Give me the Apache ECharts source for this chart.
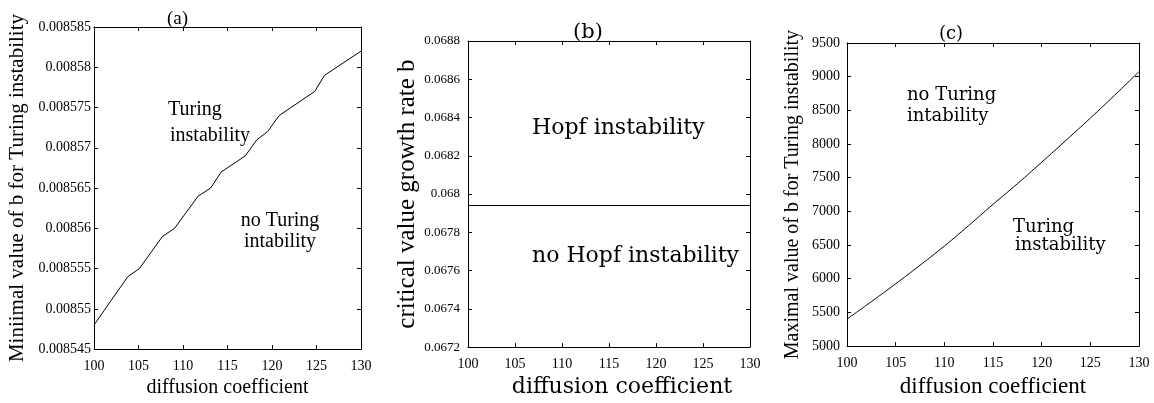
<!DOCTYPE html>
<html><head><meta charset="utf-8">
<script src="https://cdn.jsdelivr.net/npm/echarts@6/dist/echarts.min.js"></script>
<style>html,body{margin:0;padding:0;background:#fff}#c{width:1154px;height:403px}</style>
</head><body><div id="c"></div>
<script>
// Panel (a): minimal value of b for Turing instability
const diffusionA = [100, 103.8, 105.1, 107.7, 109.05, 111.7, 113.1, 114.3, 117.0, 118.3, 119.5, 120.8, 124.8, 125.9, 130];
const minBA = [0.008548, 0.008554, 0.008555, 0.008559, 0.008560, 0.008564, 0.008565, 0.008567, 0.008569, 0.008571, 0.008572, 0.008574, 0.008577, 0.008579, 0.008582];
// Panel (b): critical value of growth rate b (Hopf)
const diffusionB = [100, 130];
const hopfB = [0.06794, 0.06794];
// Panel (c): maximal value of b for Turing instability
const diffusionC = [100, 102.5, 105, 107.5, 110, 112.5, 115, 117.5, 120, 122.5, 125, 127.5, 130];
const maxBC = [5400, 5660, 5925, 6200, 6485, 6790, 7105, 7410, 7730, 8055, 8385, 8725, 9075];
// Axis tick settings
const xTicks = {min: 100, max: 130, interval: 5};
const yTicksA = {min: 0.008545, max: 0.008585, interval: 0.000005};
const yTicksB = {min: 0.0672, max: 0.0688, interval: 0.0002};
const yTicksC = {min: 5000, max: 9500, interval: 500};

const SERIF = 'Liberation Serif';
const WIDE = 'DejaVu Serif';
const chart = echarts.init(document.getElementById('c'), null, {renderer: 'canvas'});

const zip = (xs, ys) => xs.map((x, i) => [x, ys[i]]);

function axesFor(g, yT, yFmt, o) {
  const line = {show: true, lineStyle: {color: '#000', width: 1}};
  const tick = {show: true, inside: true, length: 4, lineStyle: {color: '#000', width: 1}};
  const xs = [
    Object.assign({type: 'value', gridIndex: g, position: 'bottom', axisLine: line, axisTick: tick, splitLine: {show: false},
      axisLabel: {color: '#000', fontFamily: SERIF, fontSize: o.xls, margin: o.xlm},
      name: 'diffusion coefficient', nameLocation: 'middle', nameGap: o.xng,
      nameTextStyle: {color: '#000', fontFamily: o.xnf, fontSize: o.xns, padding: o.xnp}}, xTicks),
    Object.assign({type: 'value', gridIndex: g, position: 'top', axisLine: line, axisTick: tick, splitLine: {show: false},
      axisLabel: {show: false}}, xTicks)
  ];
  const ys = [
    Object.assign({type: 'value', gridIndex: g, position: 'left', axisLine: line, axisTick: tick, splitLine: {show: false},
      axisLabel: {color: '#000', fontFamily: SERIF, fontSize: o.yls, margin: o.ylm, formatter: yFmt},
      name: o.yname, nameLocation: 'middle', nameGap: o.yng, nameRotate: 90,
      nameTextStyle: {color: '#000', fontFamily: SERIF, fontSize: o.yns}}, yT),
    Object.assign({type: 'value', gridIndex: g, position: 'right', axisLine: line, axisTick: tick, splitLine: {show: false},
      axisLabel: {show: false}}, yT)
  ];
  return {xs, ys};
}

const A = axesFor(0, yTicksA, v => String(+v.toFixed(6)),
  {xls: 14, xlm: 10, xng: 26, xns: 20, xnf: SERIF, xnp: 0, yls: 14, ylm: 3, yng: 66, yns: 21,
   yname: 'Miniimal value of b for Turing instability'});
const B = axesFor(1, yTicksB, v => String(+v.toFixed(4)),
  {xls: 14, xlm: 10, xng: 24, xns: 22, xnf: WIDE, xnp: [0, 0, 0, 26], yls: 13, ylm: 8, yng: 47, yns: 25,
   yname: 'critical value growth rate b'});
const C = axesFor(2, yTicksC, v => String(Math.round(v)),
  {xls: 14, xlm: 10, xng: 26, xns: 23, xnf: SERIF, xnp: 0, yls: 14, ylm: 7, yng: 44, yns: 20,
   yname: 'Maximal value of b for Turing instability'});

const lineSeries = (xi, yi, data) => ({type: 'line', xAxisIndex: xi, yAxisIndex: yi, data, symbol: 'none',
  lineStyle: {color: '#000', width: 1}, silent: true, animation: false});

const txt = (x, y, text, size, family, align) => ({type: 'text', x, y,
  style: {text, fill: '#000', font: size + 'px "' + family + '"', textAlign: align || 'left', textVerticalAlign: 'middle'}});

chart.setOption({
  animation: false,
  backgroundColor: '#fff',
  grid: [
    {left: 94, top: 27, width: 267, height: 327},
    {left: 468, top: 41, width: 282, height: 310},
    {left: 847, top: 43, width: 292, height: 310}
  ],
  xAxis: [...A.xs, ...B.xs, ...C.xs],
  yAxis: [...A.ys, ...B.ys, ...C.ys],
  series: [
    lineSeries(0, 0, zip(diffusionA, minBA)),
    lineSeries(2, 2, zip(diffusionB, hopfB)),
    Object.assign(lineSeries(4, 4, zip(diffusionC, maxBC)), {smooth: true})
  ],
  graphic: [
    txt(177.5, 19, '(a)', 19, SERIF, 'center'),
    txt(588, 33, '(b)', 21, WIDE, 'center'),
    txt(951, 34, '(c)', 18, WIDE, 'center'),
    txt(168, 110, 'Turing', 20, SERIF),
    txt(170, 136, 'instability', 20, SERIF),
    txt(280, 221, 'no Turing', 20, SERIF, 'center'),
    txt(280, 242, 'intability', 20, SERIF, 'center'),
    txt(532, 128, 'Hopf instability', 22, WIDE),
    txt(532, 256, 'no Hopf instability', 22, WIDE),
    txt(907, 95, 'no Turing', 18, WIDE),
    txt(907, 116, 'intability', 18, WIDE),
    txt(1013, 227, 'Turing', 18, WIDE),
    txt(1015, 245, 'instability', 18, WIDE)
  ]
});
</script></body></html>
